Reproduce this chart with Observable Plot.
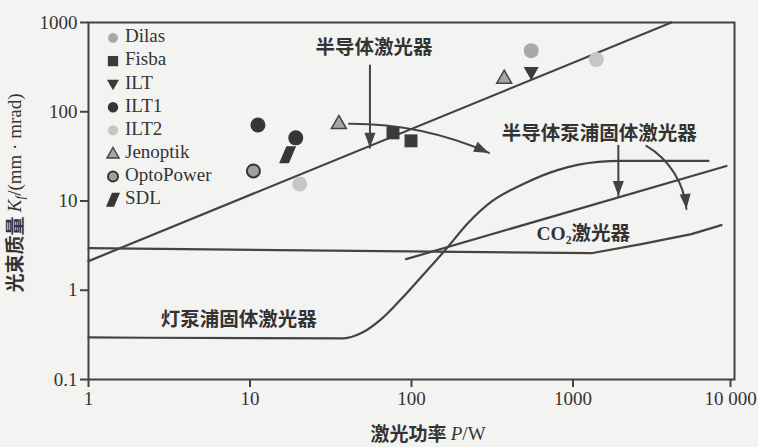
<!DOCTYPE html>
<html><head><meta charset="utf-8">
<script src="https://cdn.jsdelivr.net/npm/d3@7"></script>
<script src="https://cdn.jsdelivr.net/npm/@observablehq/plot@0.6"></script>
<style>
body{margin:0;background:#f3f3f1;}
#wrap{position:relative;width:758px;height:447px;}
svg text{fill:#333;}
</style></head><body><div id="wrap"></div>
<script>
// ---------- data ----------
const xTicks = [1, 10, 100, 1000, 10000];
const xTickLabels = ["1", "10", "100", "1000", "10 000"];
const yTicks = [0.1, 1, 10, 100, 1000];
const yTickLabels = ["0.1", "1", "10", "100", "1000"];

const legendNames = ["Dilas", "Fisba", "ILT", "ILT1", "ILT2", "Jenoptik", "OptoPower", "SDL"];

const pointMaker   = ["ILT1", "ILT1", "SDL", "OptoPower", "ILT2", "Jenoptik", "Fisba", "Fisba", "Jenoptik", "ILT", "Dilas", "ILT2"];
const pointPower   = [11.2, 19.2, 17.1, 10.5, 20.3, 35.5, 76.8, 99.3, 375, 551, 551, 1393];
const pointQuality = [71, 51, 32.9, 21.7, 15.5, 75, 58, 47.2, 241, 274, 484, 384];

// semiconductor laser trend line
const diodeTrendPower = [1, 4066];
const diodeTrendQuality = [2.12, 1000];
// CO2 laser
const co2Power = [1, 1298, 2650, 5410, 8305];
const co2Quality = [2.96, 2.6, 3.29, 4.26, 5.37];
// lamp-pumped solid-state laser
const lampPower = [1, 38.1, 48.6, 64.7, 86.1, 114.5, 163.7, 224, 311, 478, 811, 1435, 1991, 6900];
const lampQuality = [0.296, 0.289, 0.329, 0.472, 0.793, 1.40, 2.89, 5.66, 9.75, 15.1, 22.3, 27.4, 28.1, 28.1];
// diode-pumped solid-state laser
const diodePumpedPower = [92.5, 8920];
const diodePumpedQuality = [2.23, 24.7];

// annotations
const labelText = ["半导体激光器", "半导体泵浦固体激光器", "CO₂激光器", "灯泵浦固体激光器"];
const labelPower = [58.5, 1455, 1158, 8.51];
const labelQuality = [524, 56.6, 4.26, 0.472];

const arrowPower1 = [55.3, 41, 1909, 2846];
const arrowQuality1 = [329, 73.3, 41.5, 41.5];
const arrowPower2 = [55.3, 302, 1909, 5040];
const arrowQuality2 = [39.4, 34.6, 11.4, 8.13];
const arrowBend = [0, 12, 0, 27];
const arrowTipRotate = [180, 114, 180, 175];

// ---------- styles ----------
const ink = "#434343";
function sz(size){ return Math.sqrt(size / Math.PI); }
const triUp = {draw(c, size){ const s = sz(size); c.moveTo(0, -s); c.lineTo(s, s*0.75); c.lineTo(-s, s*0.75); c.closePath(); }};
const triDown = {draw(c, size){ const s = sz(size); c.moveTo(0, s); c.lineTo(s, -s*0.75); c.lineTo(-s, -s*0.75); c.closePath(); }};
const para = {draw(c, size){ const s = sz(size); c.moveTo(-s*0.15, -s); c.lineTo(s, -s); c.lineTo(s*0.15, s); c.lineTo(-s, s); c.closePath(); }};
const arrowHead = {draw(c){ c.moveTo(0, 0); c.lineTo(5.5, 15); c.lineTo(-5.5, 15); c.closePath(); }};

const markerStyle = {
  Dilas:     {symbol: d3.symbolCircle, r: 7.5, lr: 5, fill: "#a9a9a9", stroke: "none", sw: 0},
  Fisba:     {symbol: d3.symbolSquare, r: 7.3, lr: 5.8, fill: "#3a3a3a", stroke: "none", sw: 0},
  ILT:       {symbol: triDown, r: 7.5, lr: 6, fill: "#3a3a3a", stroke: "none", sw: 0},
  ILT1:      {symbol: d3.symbolCircle, r: 7.5, lr: 5.2, fill: "#363636", stroke: "none", sw: 0},
  ILT2:      {symbol: d3.symbolCircle, r: 7.5, lr: 5, fill: "#c6c6c6", stroke: "none", sw: 0},
  Jenoptik:  {symbol: triUp, r: 7.5, lr: 6, fill: "#a6a6a6", stroke: "#444", sw: 1.5},
  OptoPower: {symbol: d3.symbolCircle, r: 6.5, lr: 5, fill: "#a0a0a0", stroke: "#333", sw: 2},
  SDL:       {symbol: para, r: 8.5, lr: 7, fill: "#363636", stroke: "none", sw: 0}
};

const idx = pointPower.map((_, i) => i);
const lineMark = (px, py, curve) => Plot.line(px.map((_, i) => i), {
  x: i => px[i], y: i => py[i], stroke: ink, strokeWidth: 2.2, curve: curve || "linear"
});
const xFmt = d => xTickLabels[xTicks.indexOf(d)];

const marks = [
  Plot.frame({stroke: ink, strokeWidth: 2}),
  Plot.axisX({ticks: xTicks.slice(0, 4), tickFormat: xFmt, tickSize: 8, tickPadding: 4, strokeWidth: 2, stroke: ink, label: null, fontSize: 19}),
  Plot.axisX({ticks: xTicks.slice(4), tickFormat: xFmt, tickSize: 8, tickPadding: 4, strokeWidth: 2, stroke: ink, label: null, fontSize: 19, dx: -4}),
  Plot.axisY({ticks: yTicks, tickFormat: d => yTickLabels[yTicks.indexOf(d)], tickSize: 8, tickPadding: 3, strokeWidth: 2, stroke: ink, label: null, fontSize: 19}),
  lineMark(diodeTrendPower, diodeTrendQuality),
  lineMark(co2Power, co2Quality),
  lineMark(lampPower, lampQuality, "monotone-x"),
  lineMark(diodePumpedPower, diodePumpedQuality),
  ...arrowBend.map((b, i) => Plot.arrow([i], {
    x1: j => arrowPower1[j], y1: j => arrowQuality1[j], x2: j => arrowPower2[j], y2: j => arrowQuality2[j],
    bend: b, headLength: 0, stroke: ink, strokeWidth: 2
  })),
  Plot.dot(arrowBend.map((_, i) => i), {
    x: j => arrowPower2[j], y: j => arrowQuality2[j], rotate: j => arrowTipRotate[j],
    symbol: arrowHead, fill: ink, stroke: "none", r: 5
  }),
  ...legendNames.map(name => {
    const st = markerStyle[name];
    return Plot.dot(idx.filter(i => pointMaker[i] === name), {
      x: i => pointPower[i], y: i => pointQuality[i], symbol: st.symbol, r: st.r,
      fill: st.fill, stroke: st.stroke, strokeWidth: st.sw
    });
  }),
  Plot.text(labelText.map((_, i) => i), {
    x: i => labelPower[i], y: i => labelQuality[i], text: i => labelText[i],
    fontSize: 19.5, fontWeight: "bold", fill: "#333",
    fontFamily: "'Liberation Serif','Noto Sans CJK SC'"
  })
];

const plot = Plot.plot({
  width: 758, height: 447,
  marginLeft: 88, marginRight: 24, marginTop: 22, marginBottom: 68,
  style: {background: "transparent", fontFamily: "'Liberation Serif', serif", fontSize: "19px", color: "#333"},
  x: {type: "log", domain: [1, 10000]},
  y: {type: "log", domain: [0.1, 1000]},
  marks
});

const svg = d3.select(plot);
// y label
const yl = svg.append("text")
  .attr("transform", "translate(17,193) rotate(-90)")
  .attr("text-anchor", "middle").attr("dominant-baseline", "middle")
  .attr("font-family", "'Liberation Serif','Noto Sans CJK SC'").attr("font-size", 19);
yl.append("tspan").attr("font-family", "'Noto Sans CJK SC'").attr("font-weight", "bold").text("光束质量 ");
yl.append("tspan").attr("font-style", "italic").text("K");
yl.append("tspan").attr("font-size", 13).attr("dy", 4).attr("font-style", "italic").text("f");
yl.append("tspan").attr("dy", -4).text("/(mm · mrad)");
// x label
const xl = svg.append("text")
  .attr("x", 428).attr("y", 436)
  .attr("text-anchor", "middle").attr("dominant-baseline", "middle")
  .attr("font-family", "'Liberation Serif','Noto Sans CJK SC'").attr("font-size", 19);
xl.append("tspan").attr("font-family", "'Noto Sans CJK SC'").attr("font-weight", "bold").text("激光功率 ");
xl.append("tspan").attr("font-style", "italic").text("P");
xl.append("tspan").text("/W");

// legend
const lg = svg.append("g").attr("transform", "translate(113,38)");
legendNames.forEach((name, i) => {
  const st = markerStyle[name];
  const row = lg.append("g").attr("transform", `translate(0,${i * 23.1})`);
  row.append("path")
    .attr("d", d3.symbol(st.symbol, Math.PI * st.lr * st.lr)())
    .attr("fill", st.fill).attr("stroke", st.stroke).attr("stroke-width", st.sw);
  row.append("text").attr("x", 12).attr("dominant-baseline", "middle").attr("text-anchor", "start")
    .attr("font-family", "'Liberation Serif'").attr("font-size", 19).text(name);
});

document.getElementById("wrap").appendChild(plot);
</script>
</body></html>
